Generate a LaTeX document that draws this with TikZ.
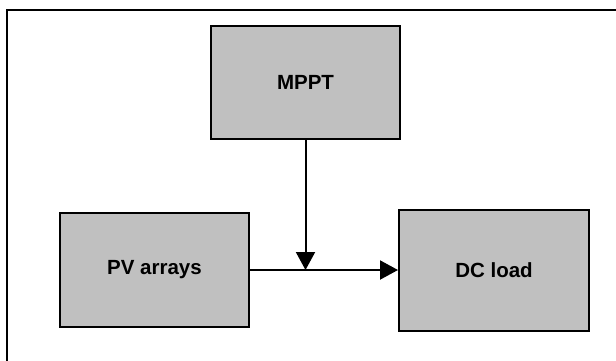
\documentclass[tikz,border=0pt]{standalone}
\usepackage{fontspec}
\setmainfont{Liberation Sans}
\usetikzlibrary{arrows.meta}
\definecolor{boxgray}{HTML}{C0C0C0}
\tikzset{
  block/.style={draw, line width=2pt, fill=boxgray, inner sep=0pt,
    font=\fontsize{20.5}{24}\selectfont\bfseries},
  flow/.style={line width=2pt, -{Triangle[length=18pt,width=19pt]}}
}
\begin{document}
\begin{tikzpicture}[x=1pt,y=-1pt]
  \useasboundingbox (0,0) rectangle (616,360);
  \clip (0,0) rectangle (616,360);
  \draw[line width=2pt] (7,10) rectangle (640,380);
  \node[block, minimum width=189pt, minimum height=113pt] (mppt) at (305.5,82.5) {MPPT};
  \node[block, minimum width=189pt, minimum height=114pt] (pv) at (154.5,270) {PV arrays};
  \node[block, minimum width=190pt, minimum height=121pt] (load) at (494,270) {DC load};
  \coordinate (joint) at (mppt.south |- pv.east);
  \draw[flow] (mppt) -- (joint);
  \draw[flow] (pv) -- (load);
\end{tikzpicture}
\end{document}
